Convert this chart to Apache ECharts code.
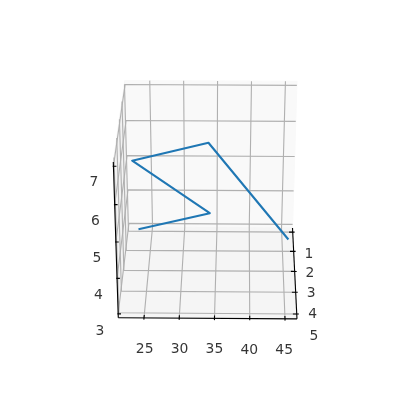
<!DOCTYPE html>
<html><head><meta charset="utf-8">
<style>html,body{margin:0;padding:0;background:#fff}#c{width:400px;height:400px}</style>
<script src="https://cdn.jsdelivr.net/npm/echarts@6/dist/echarts.min.js"></script>
</head><body><div id="c"></div>
<script>
// data (3D)
const xValues=[1,2,3,4,5];
const yValues=[22.9,34,23,34,45.2];
const zValues=[2.95,4,6,7,4.97];
const xTicks=[1,2,3,4,5];
const yTicks=[25,30,35,40,45];
const zTicks=[3,4,5,6,7];
const xLim=[0.78,5.22], yLim=[21.35,46.7], zLim=[2.89,7.11];

// camera: perspective map fitted to the axes box
const origin=[129,227], yEnd=[292.5,228], xEnd=[118.3,317.7], zEnd=[125,80.5];
const persp={u:-0.001,v:-0.085,w:-0.0493};
const k=(e,g)=>[e[0]*(1+g)-origin[0],e[1]*(1+g)-origin[1]];
const ku=k(yEnd,persp.u),kv=k(xEnd,persp.v),kw=k(zEnd,persp.w);
function P(x,y,z){
  const v=(x-xLim[0])/(xLim[1]-xLim[0]),u=(y-yLim[0])/(yLim[1]-yLim[0]),w=(z-zLim[0])/(zLim[1]-zLim[0]);
  const d=1+persp.u*u+persp.v*v+persp.w*w;
  return [(origin[0]+ku[0]*u+kv[0]*v+kw[0]*w)/d,(origin[1]+ku[1]*u+kv[1]*v+kw[1]*w)/d];
}
const [x0,x1]=xLim,[y0,y1]=yLim,[z0,z1]=zLim;
const series=[];
const panes=[
 {c:'#f2f2f2',p:[[x0,y0,z0],[x1,y0,z0],[x1,y0,z1],[x0,y0,z1]]},
 {c:'#f9f9f9',p:[[x0,y0,z0],[x0,y1,z0],[x0,y1,z1],[x0,y0,z1]]},
 {c:'#f5f5f5',p:[[x0,y0,z0],[x1,y0,z0],[x1,y1,z0],[x0,y1,z0]]}
];
series.push({type:'custom',silent:true,animation:false,clip:false,z:1,coordinateSystem:'cartesian2d',
  data:panes.map((p,i)=>[i]),encode:{x:0,y:0},
  renderItem:(params,api)=>{const p=panes[params.dataIndex];
    return {type:'polygon',shape:{points:p.p.map(q=>api.coord(P(...q)))},style:{fill:p.c,stroke:p.c,lineWidth:1.1}};}
});
function poly(points,color,width,z){
  series.push({type:'line',silent:true,animation:false,clip:false,showSymbol:false,symbol:'none',z,
    data:points.map(q=>P(...q)),lineStyle:{color,width,cap:'butt',join:'miter'}});
}
const GRID='#b0b0b0',GW=1.11;
yTicks.forEach(y=>poly([[x1,y,z0],[x0,y,z0],[x0,y,z1]],GRID,GW,2));
xTicks.forEach(x=>poly([[x,y1,z0],[x,y0,z0],[x,y0,z1]],GRID,GW,2));
zTicks.forEach(z=>poly([[x0,y1,z],[x0,y0,z],[x1,y0,z]],GRID,GW,2));
// axis lines
poly([[x1,y0,z0],[x1,y1,z0]],'#000',1.11,3);
poly([[x0,y1,z0],[x1,y1,z0]],'#000',1.11,3);
poly([[x1,y0,z0],[x1,y0,z1]],'#000',1.11,3);
// ticks
yTicks.forEach(y=>poly([[x1-0.13,y,z0],[x1+0.08,y,z0]],'#000',1.11,3));
xTicks.forEach(x=>poly([[x,y1-0.55,z0],[x,y1+0.3,z0]],'#000',1.11,3));
zTicks.forEach(z=>poly([[x1,y0-0.1,z],[x1,y0+0.4,z]],'#000',1.11,3));
// data
series.push({type:'line',silent:true,animation:false,clip:false,showSymbol:false,symbol:'none',z:5,
  data:xValues.map((x,i)=>P(x,yValues[i],zValues[i])),lineStyle:{color:'#1f77b4',width:2.08,join:'round',cap:'butt'}});
// tick labels
function labels(points,texts,offset){
  series.push({type:'scatter',silent:true,animation:false,clip:false,symbolSize:0,z:6,
    data:points.map((q,i)=>({value:P(...q),label:{formatter:String(texts[i])}})),
    label:{show:true,position:'inside',align:'center',verticalAlign:'middle',color:'#000',offset,
      fontFamily:'DejaVu Sans',fontSize:13.9}});
}
labels(yTicks.map(y=>[x1,y,z0-0.82]),yTicks,[0,3]);
labels(xTicks.map(x=>[x,y1+2.2,z0-0.57]),xTicks,[2.5,3]);
labels(zTicks.map(z=>[x1+0.6,y0-2.7,z]),zTicks,[2.5,4]);

const chart=echarts.init(document.getElementById('c'),null,{renderer:'canvas',width:400,height:400});
chart.setOption({animation:false,backgroundColor:'#fff',
  grid:{left:0,right:0,top:0,bottom:0,containLabel:false},
  xAxis:{type:'value',min:0,max:400,show:false},
  yAxis:{type:'value',min:0,max:400,inverse:true,show:false},
  series});
</script></body></html>
